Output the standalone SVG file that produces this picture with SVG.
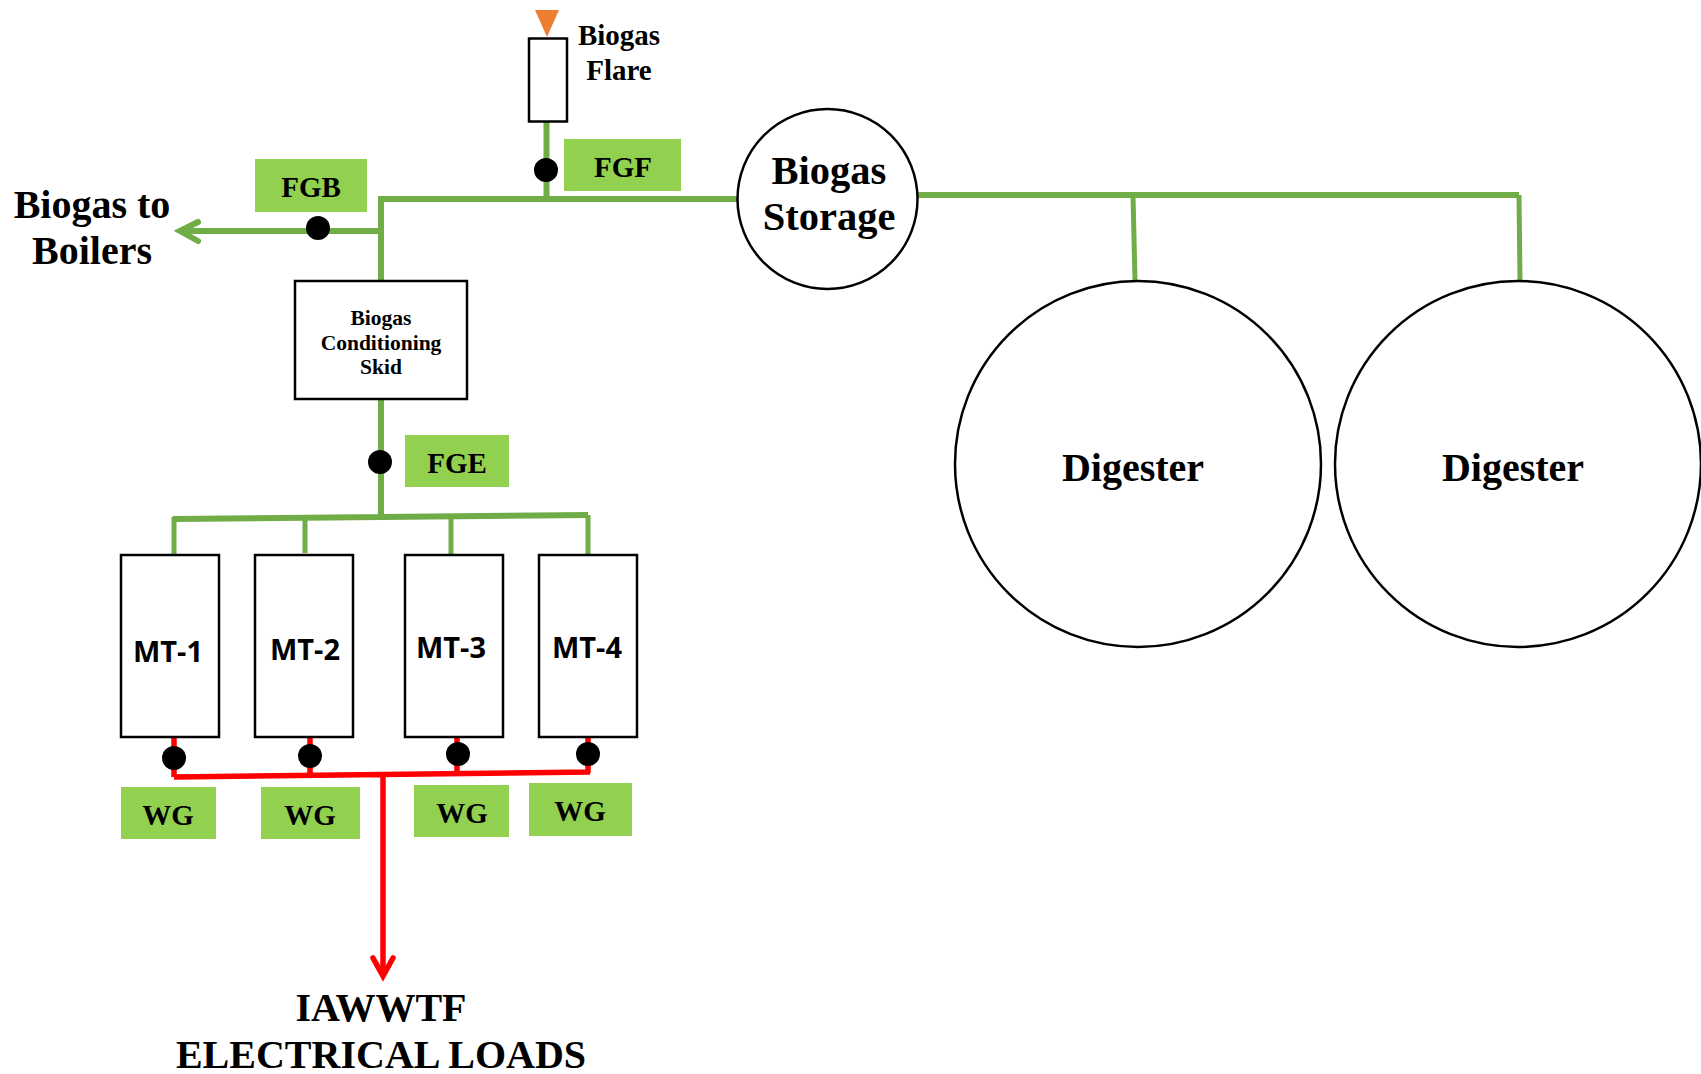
<svg xmlns="http://www.w3.org/2000/svg" width="1701" height="1074" viewBox="0 0 1701 1074">
<style>
.t{font-family:"Liberation Serif",serif;font-weight:bold;fill:#000;text-anchor:middle}
.m{font-family:"Open Sans","Liberation Sans",sans-serif;font-weight:bold;font-size:29px;fill:#000;text-anchor:middle}
.b{fill:#fff;stroke:#000;stroke-width:2.5}
.l{fill:#92d050}
.g{fill:none;stroke:#70ad47;stroke-width:6}
.n{fill:none;stroke:#70ad47;stroke-width:5}
.r{fill:none;stroke:#f00;stroke-width:5.5}
.d{fill:#000}
</style>
<rect width="1701" height="1074" fill="#fff"/>
<g id="connectors">
<path class="g" d="M546.500 122V199M381 199H738M381 196V281M381 231H180"/>
<path class="g" stroke-linecap="round" d="M198 222L180 231L198 241"/>
<path class="g" d="M381 399V516M173 519L588 515M918 195H1519"/>
<path class="n" d="M174 517V555M305 517V553M451 516V555M588 515V555M1133 195L1135 281M1519 195L1520 281"/>
<path class="r" d="M174 737V777M310 737V775M457 737V775M588 737V773M174 777L590 772M383 775V975"/>
<path class="r" stroke-linecap="round" d="M373 958L383 976L393 958"/>
</g>
<g id="flare"><polygon points="535,10 559,10 547,37" fill="#ed7d31"/><rect class="b" x="529" y="38.500" width="38" height="83"/><text class="t" font-size="29"><tspan x="619" y="45">Biogas</tspan><tspan x="619" y="80">Flare</tspan></text></g>
<g id="fgf"><rect class="l" x="564" y="139" width="117" height="52"/><text class="t" x="623" y="177" font-size="29">FGF</text><circle class="d" cx="546" cy="170" r="12"/></g>
<g id="fgb"><rect class="l" x="255" y="159" width="112" height="53"/><text class="t" x="311" y="197" font-size="29">FGB</text><circle class="d" cx="318" cy="228" r="12"/></g>
<g id="boilers"><text class="t" font-size="40"><tspan x="92" y="218">Biogas to</tspan><tspan x="92" y="264">Boilers</tspan></text></g>
<g id="skid"><rect class="b" x="295" y="281" width="172" height="118"/><text class="t" font-size="21.500"><tspan x="381" y="325">Biogas</tspan><tspan x="381" y="350">Conditioning</tspan><tspan x="381" y="374">Skid</tspan></text></g>
<g id="fge"><rect class="l" x="405" y="435" width="104" height="52"/><text class="t" x="457" y="473" font-size="29">FGE</text><circle class="d" cx="380" cy="462" r="12"/></g>
<g id="storage"><circle class="b" cx="827.500" cy="199" r="90"/><text class="t" font-size="40.500"><tspan x="829" y="184">Biogas</tspan><tspan x="829" y="230">Storage</tspan></text></g>
<g id="digester1"><circle class="b" cx="1138" cy="464" r="183"/><text class="t" x="1133" y="481" font-size="40">Digester</text></g>
<g id="digester2"><circle class="b" cx="1518" cy="464" r="183"/><text class="t" x="1513" y="481" font-size="40">Digester</text></g>
<g id="mt1"><rect class="b" x="121" y="555" width="98" height="182"/><text class="m" x="168" y="662">MT-1</text><circle class="d" cx="174" cy="758" r="12"/></g>
<g id="mt2"><rect class="b" x="255" y="555" width="98" height="182"/><text class="m" x="305" y="660">MT-2</text><circle class="d" cx="310" cy="756" r="12"/></g>
<g id="mt3"><rect class="b" x="405" y="555" width="98" height="182"/><text class="m" x="451" y="658">MT-3</text><circle class="d" cx="458" cy="754" r="12"/></g>
<g id="mt4"><rect class="b" x="539" y="555" width="98" height="182"/><text class="m" x="587" y="658">MT-4</text><circle class="d" cx="588" cy="754" r="12"/></g>
<g id="wg1"><rect class="l" x="121" y="787" width="95" height="52"/><text class="t" x="168" y="825" font-size="29">WG</text></g>
<g id="wg2"><rect class="l" x="261" y="787" width="99" height="52"/><text class="t" x="310" y="825" font-size="29">WG</text></g>
<g id="wg3"><rect class="l" x="414" y="785" width="95" height="52"/><text class="t" x="462" y="823" font-size="29">WG</text></g>
<g id="wg4"><rect class="l" x="529" y="783" width="103" height="53"/><text class="t" x="580" y="821" font-size="29">WG</text></g>
<g id="loads"><text class="t" font-size="40"><tspan x="381" y="1021">IAWWTF</tspan><tspan x="381" y="1068">ELECTRICAL LOADS</tspan></text></g>
</svg>
